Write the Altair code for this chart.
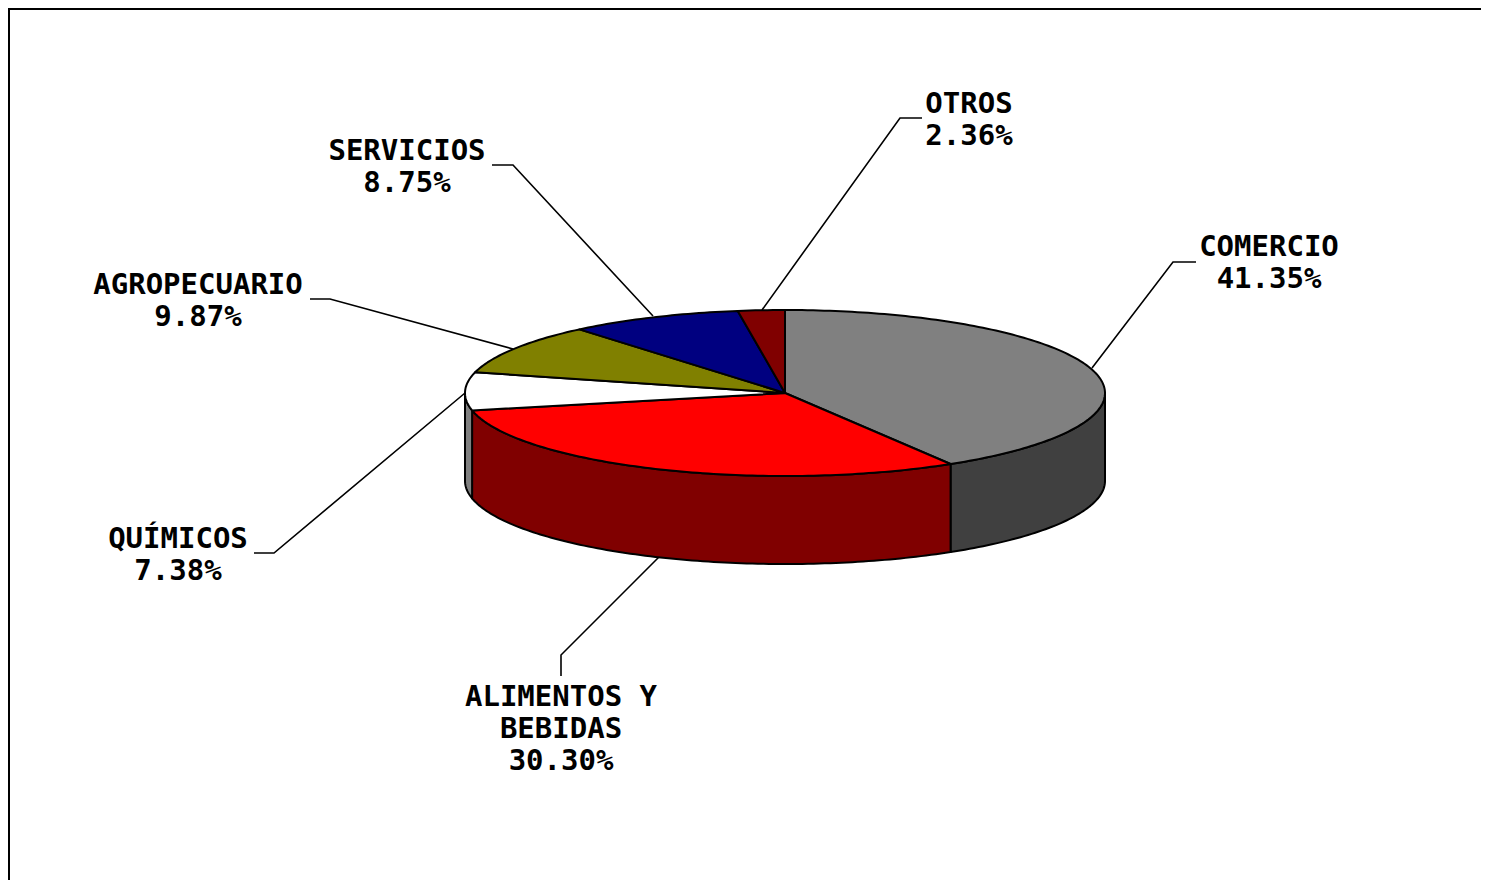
import math
import altair as alt
import pandas as pd

names = ["COMERCIO", "ALIMENTOS Y BEBIDAS", "QUÍMICOS", "AGROPECUARIO", "SERVICIOS", "OTROS"]
shares = [41.35, 30.30, 7.38, 9.87, 8.75, 2.36]
top_colors = ["#808080", "#ff0000", "#ffffff", "#808000", "#000080", "#800000"]
wall_colors = ["#404040", "#800000", "#808080", "#404000", "#000040", "#400000"]

cx, cy, rx, ry, depth = 785, 393, 320, 83, 88

label_lines = [["COMERCIO", "41.35%"], ["ALIMENTOS Y", "BEBIDAS", "30.30%"], ["QUÍMICOS", "7.38%"],
               ["AGROPECUARIO", "9.87%"], ["SERVICIOS", "8.75%"], ["OTROS", "2.36%"]]
label_x = [1269, 561, 178, 198, 407, 969]
label_y = [247, 697, 539, 285, 151, 104]
line_gap = 32

leader_x = [[1196, 1173, 1092], [561, 561, 659], [254, 274, 465], [310, 330, 513], [492, 513, 653], [922, 900, 762]]
leader_y = [[262, 262, 368], [676, 655, 557], [553, 553, 393], [299, 299, 349], [165, 165, 316], [118, 118, 310]]

frame_x = [9, 9, 1481]
frame_y = [880, 9, 9]


def pt(deg, drop=0):
    a = math.radians(deg)
    return cx + rx * math.sin(a), cy - ry * math.cos(a) + drop


def arc(a0, a1, drop=0):
    n = max(2, int(abs(a1 - a0)) + 1)
    return [pt(a0 + (a1 - a0) * k / (n - 1), drop) for k in range(n)]


x_enc = alt.X("x:Q", scale=alt.Scale(domain=[8, 1481], range=[0, 1473]), axis=None)
y_enc = alt.Y("y:Q", scale=alt.Scale(domain=[8, 880], range=[0, 872]), axis=None)


def poly(points, fill):
    pts = list(points) + [points[0]]
    df = pd.DataFrame({"x": [p[0] for p in pts], "y": [p[1] for p in pts], "i": range(len(pts))})
    return alt.Chart(df).mark_line(fill=fill, stroke="black", strokeWidth=2, strokeJoin="round").encode(
        x=x_enc, y=y_enc, order="i:Q")


def path(xs, ys, width=1.6):
    df = pd.DataFrame({"x": xs, "y": ys, "i": range(len(xs))})
    return alt.Chart(df).mark_line(color="black", strokeWidth=width).encode(x=x_enc, y=y_enc, order="i:Q")


layers = [path(frame_x, frame_y, 2)]
layers += [path(lx, ly) for lx, ly in zip(leader_x, leader_y)]

total = sum(shares)
edges = [0.0]
for s in shares:
    edges.append(edges[-1] + s / total * 360)

for k in range(len(shares)):
    a0, a1 = max(edges[k], 90), min(edges[k + 1], 270)
    if a1 > a0:
        layers.append(poly(arc(a0, a1) + arc(a1, a0, depth), wall_colors[k]))
for k in range(len(shares)):
    layers.append(poly([(cx, cy)] + arc(edges[k], edges[k + 1]), top_colors[k]))

rows = []
for lines, lx, ly in zip(label_lines, label_x, label_y):
    for j, t in enumerate(lines):
        rows.append({"x": lx, "y": ly + j * line_gap, "t": t})
layers.append(alt.Chart(pd.DataFrame(rows)).mark_text(
    font="DejaVu Sans Mono", fontWeight="bold", fontSize=29, color="black", baseline="middle", align="center"
).encode(x=x_enc, y=y_enc, text="t:N"))

chart = alt.layer(*layers).properties(
    width=1473, height=872, padding=0, autosize=alt.AutoSizeParams(type="none")
).configure_view(stroke=None)

chart.save("out.html", embed_options={"renderer": "svg", "actions": False})
